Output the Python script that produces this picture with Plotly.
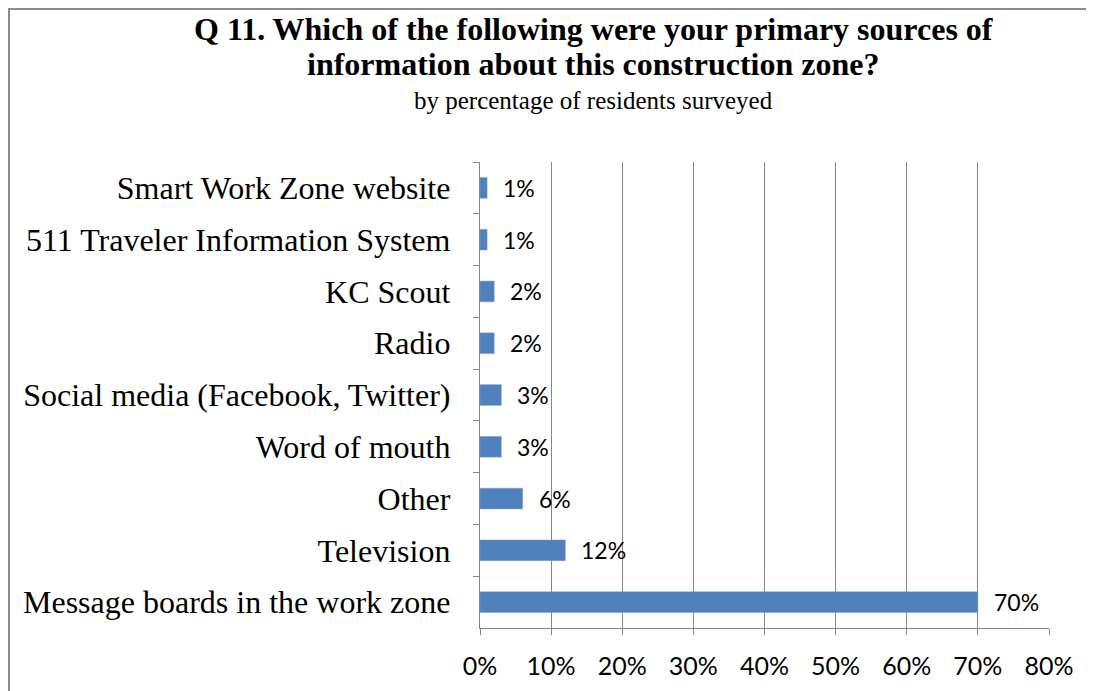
import plotly.graph_objects as go

categories = [
    "Smart Work Zone website",
    "511 Traveler Information System",
    "KC Scout",
    "Radio",
    "Social media (Facebook, Twitter)",
    "Word of mouth",
    "Other",
    "Television",
    "Message boards in the work zone",
]
values = [1, 1, 2, 2, 3, 3, 6, 12, 70]
tick_vals = [0, 10, 20, 30, 40, 50, 60, 70, 80]
tick_text = ["0%", "10%", "20%", "30%", "40%", "50%", "60%", "70%", "80%"]

title_line1 = "Q 11. Which of the following were your primary sources of"
title_line2 = "information about this construction zone?"
subtitle = "by percentage of residents surveyed"

SERIF = "Liberation Serif, Times New Roman, serif"
SANS = "Lato, Open Sans, sans-serif"
GRAY = "#868686"

# page has an 8px body margin; figure coordinates are page coordinates minus 8
OFF = 8
W, H = 1094 - OFF, 691 - OFF
ml, mr, mt = 480 - OFF, 45, 162 - OFF
ph = 628 - 162
mb = H - mt - ph
pw = W - ml - mr

fig = go.Figure()
fig.add_trace(go.Bar(
    x=values, y=categories, orientation="h",
    marker=dict(color="#4F81BD", line=dict(color="#7DA1D0", width=0.5)),
    hoverinfo="x+y",
))

for v, c in zip(values, categories):
    fig.add_annotation(x=v, y=c, xref="x", yref="y", text=f"{v}%",
                       showarrow=False, xanchor="left", xshift=14,
                       font=dict(family=SANS, size=23, color="#000"))


def px(xp):
    return (xp - OFF - ml) / pw


def py(yp):
    return (H - mb - (yp - OFF)) / ph


fig.add_annotation(x=px(593), y=py(29), xref="paper", yref="paper", text=f"<b>{title_line1}</b>",
                   showarrow=False, xanchor="center", yanchor="middle",
                   font=dict(family=SERIF, size=32, color="#000"))
fig.add_annotation(x=px(593), y=py(64), xref="paper", yref="paper", text=f"<b>{title_line2}</b>",
                   showarrow=False, xanchor="center", yanchor="middle",
                   font=dict(family=SERIF, size=32, color="#000"))
fig.add_annotation(x=px(593), y=py(101), xref="paper", yref="paper", text=subtitle,
                   showarrow=False, xanchor="center", yanchor="middle",
                   font=dict(family=SERIF, size=25, color="#000"))

# outer frame (left and top)
fig.add_shape(type="line", xref="paper", yref="paper", x0=px(9), x1=px(9), y0=py(9), y1=py(720),
              line=dict(color="#8C8C8C", width=2))
fig.add_shape(type="line", xref="paper", yref="paper", x0=px(8), x1=px(1110), y0=py(9), y1=py(9),
              line=dict(color="#8C8C8C", width=2))

fig.update_layout(
    width=W, height=H,
    margin=dict(l=ml, r=mr, t=mt, b=mb, autoexpand=False),
    paper_bgcolor="white", plot_bgcolor="white",
    showlegend=False,
    bargap=0.6,
    xaxis=dict(range=[0, 80], tickvals=tick_vals, ticktext=tick_text,
               showgrid=True, gridcolor=GRAY, gridwidth=1.3,
               showline=True, linecolor=GRAY, linewidth=1.3,
               ticks="outside", ticklen=6, tickcolor=GRAY, tickwidth=1.3,
               ticklabelstandoff=10, automargin=False,
               tickfont=dict(family=SANS, size=25, color="#000"),
               zeroline=False, fixedrange=True),
    yaxis=dict(autorange="reversed", type="category",
               showline=True, linecolor=GRAY, linewidth=1.3,
               ticks="outside", ticklen=6, tickcolor=GRAY, tickwidth=1.3,
               tickson="boundaries", ticklabelstandoff=22, automargin=False,
               showgrid=False,
               tickfont=dict(family=SERIF, size=32, color="#000"),
               fixedrange=True),
)

fig.write_html("out.html")
